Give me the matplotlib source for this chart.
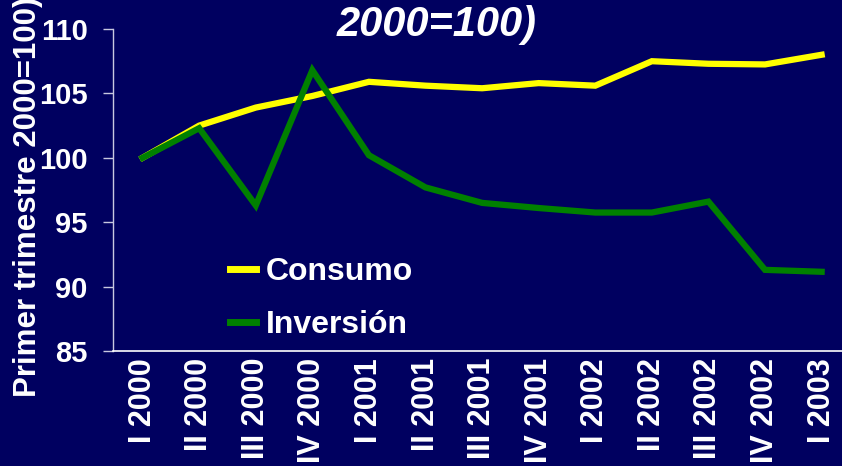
import matplotlib
matplotlib.use("Agg")
import matplotlib.pyplot as plt

quarters = ["I 2000", "II 2000", "III 2000", "IV 2000", "I 2001", "II 2001", "III 2001",
            "IV 2001", "I 2002", "II 2002", "III 2002", "IV 2002", "I 2003"]
consumo = [100.0, 102.5, 103.9, 104.8, 105.9, 105.6, 105.4, 105.8, 105.6, 107.5, 107.3, 107.25, 108.0]
inversion = [100.0, 102.3, 96.3, 106.8, 100.2, 97.7, 96.5, 96.1, 95.75, 95.75, 96.6, 91.3, 91.15]
yticks = [85, 90, 95, 100, 105, 110]

BG = "#000060"
plt.rcParams['font.family'] = ['Liberation Sans', 'DejaVu Sans']

fig = plt.figure(figsize=(8.42, 4.66), dpi=100, facecolor=BG)
ax = fig.add_axes([113/842, 1-351/466, 1-113/842, (351-29)/466], facecolor=BG)

x = list(range(len(quarters)))
ax.plot(x, consumo, color="#FFFF00", lw=4.5, label="Consumo", solid_joinstyle='miter')
ax.plot(x, inversion, color="#008000", lw=4.5, label="Inversión", solid_joinstyle='miter')

ax.set_xlim(-0.523, 12.36)
ax.set_ylim(85, 110)
ax.set_yticks(yticks)
ax.set_yticklabels([str(t) for t in yticks], fontsize=21, fontweight='bold', color='white')
ax.set_xticks(x)
ax.set_xticklabels(quarters, rotation=90, fontsize=22, fontweight='bold', color='white')
ax.tick_params(axis='x', length=0, pad=5)
ax.tick_params(axis='y', length=7.2, width=1, color='#c8c8e0', pad=11)

for s in ['top', 'right']:
    ax.spines[s].set_visible(False)
ax.spines['left'].set_color('#c8c8e0')
ax.spines['bottom'].set_color('white')
ax.spines['left'].set_linewidth(1)
ax.spines['bottom'].set_linewidth(1.2)

leg = ax.legend(loc='upper left', bbox_to_anchor=(230/842, 1-257/466), bbox_transform=fig.transFigure,
                frameon=False, fontsize=23, handlelength=0.82, handletextpad=0.3,
                labelspacing=0.72, borderpad=0, borderaxespad=0)
for t in leg.get_texts():
    t.set_color('white')
    t.set_fontweight('bold')
for h in leg.get_lines():
    h.set_linewidth(5)

fig.text(437/842, 1-25/466, "2000=100)", fontsize=30, fontweight='bold', style='italic',
         color='white', ha='center', va='center')
fig.text(28/842, 1-197/466, "Primer trimestre 2000=100)", fontsize=22.5, fontweight='bold',
         color='white', rotation=90, ha='center', va='center')

fig.savefig("out.png", dpi=100, facecolor=BG)
